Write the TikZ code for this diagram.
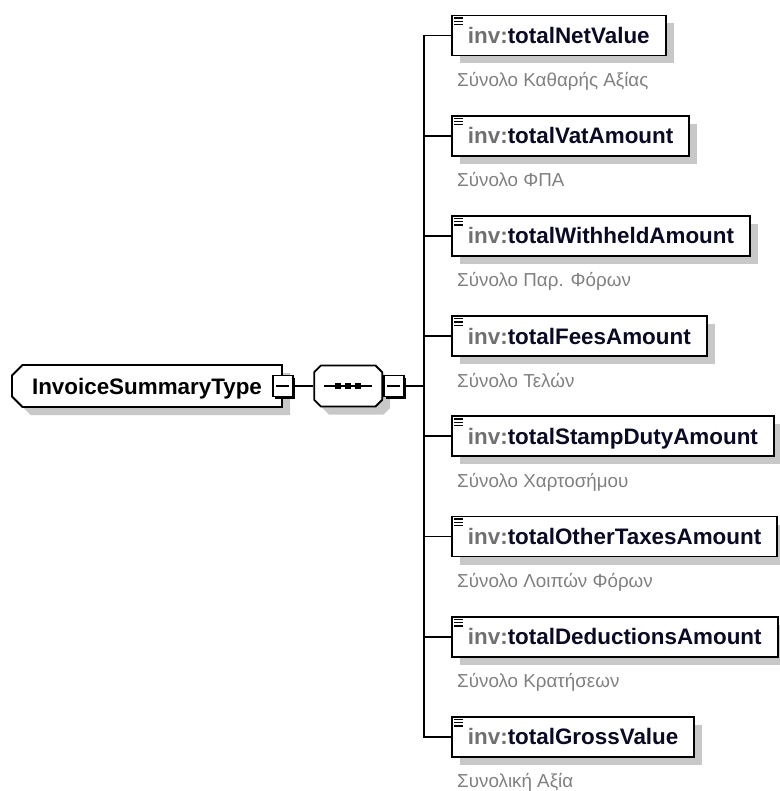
\documentclass[tikz,border=0pt]{standalone}
\usepackage{fontspec}
\setmainfont{Liberation Sans}
\usetikzlibrary{positioning, shapes.misc, shadows}
\definecolor{XsdShadow}{HTML}{C8C8C8}
\definecolor{XsdCaption}{HTML}{808080}
\definecolor{XsdPrefix}{HTML}{707070}
\definecolor{XsdName}{HTML}{0A0A24}

\newcommand{\xsdname}[1]{{\color{XsdPrefix}inv:}{\color{XsdName}#1}}

\begin{document}
\begin{tikzpicture}[x=1pt, y=-1pt,
  flatshadow/.style={general shadow={fill=XsdShadow, shadow xshift=8pt, shadow yshift=-8pt}},
  typebox/.style={chamfered rectangle, chamfered rectangle corners={north west, south west},
    chamfered rectangle xsep=7pt, draw=black, line width=1.9pt, fill=white, flatshadow,
    minimum width=270pt, minimum height=42pt, inner xsep=10pt, text height=16pt, text depth=0pt,
    font=\fontsize{22.4}{26}\selectfont\bfseries},
  seqbox/.style={chamfered rectangle, chamfered rectangle xsep=8pt, draw=black, line width=1.9pt,
    fill=white, flatshadow, minimum width=68pt, minimum height=41pt},
  minusbox/.style={draw=black, fill=white, line width=1.6pt, minimum width=20pt, minimum height=21pt,
    inner sep=0pt, general shadow={fill=black, shadow xshift=2.2pt, shadow yshift=-2.2pt}},
  elem/.style={draw=black, line width=1.9pt, fill=white, flatshadow, anchor=west, minimum height=40pt,
    inner xsep=16pt, text height=16pt, text depth=0pt, font=\fontsize{22.4}{26}\selectfont\bfseries},
  caption/.style={inner sep=0pt, text=XsdCaption, font=\fontsize{18.8}{22}\selectfont},
  wire/.style={draw=black, line width=1.9pt}]
  \useasboundingbox (0,0) rectangle (779,791);

  % complex type and its sequence
  \node[typebox] (type) at (147,386) {InvoiceSummaryType\hspace{20pt}};
  \node[minusbox] (tminus) at (type.east) {};
  \draw[line width=1.5pt] ([xshift=-6.5pt]tminus.center) -- ([xshift=6.5pt]tminus.center);

  \node[seqbox, right=19.5pt of tminus] (seq) {};
  \node[minusbox, right=0pt of seq] (sminus) {};
  \draw[line width=1.5pt] ([xshift=-6.5pt]sminus.center) -- ([xshift=6.5pt]sminus.center);
  \draw[line width=1.5pt] ([xshift=-24pt]seq.center) -- ([xshift=24pt]seq.center);
  \foreach \dx in {-10,0,10}
    \fill ([xshift=\dx pt]seq.center) +(-3pt,-3pt) rectangle +(3pt,3pt);

  \draw[wire] (tminus) -- (seq);
  \coordinate[right=19pt of sminus] (bus);
  \draw[wire] (sminus) -- (bus);

  % elements of the sequence
  \foreach \name/\cap [count=\i from 0] in {
      totalNetValue/Σύνολο Καθαρής Αξίας,
      totalVatAmount/Σύνολο ΦΠΑ,
      totalWithheldAmount/Σύνολο Παρ. Φόρων,
      totalFeesAmount/Σύνολο Τελών,
      totalStampDutyAmount/Σύνολο Χαρτοσήμου,
      totalOtherTaxesAmount/Σύνολο Λοιπών Φόρων,
      totalDeductionsAmount/Σύνολο Κρατήσεων,
      totalGrossValue/Συνολική Αξία} {
    \node[elem] (e\i) at (451,{35.5+100.2*\i}) {\xsdname{\name}};
    \foreach \k in {0,1,2}
      \draw[line width=1.3pt] ([xshift=3pt, yshift={-3.5pt-3.3pt*\k}]e\i.north west) -- ++(9pt,0);
    \node[caption, anchor=base west] (c\i) at ([xshift=6pt, yshift=-30pt]e\i.south west) {\cap};
    \draw[wire] (bus) |- (e\i.west);
  }
\end{tikzpicture}
\end{document}
